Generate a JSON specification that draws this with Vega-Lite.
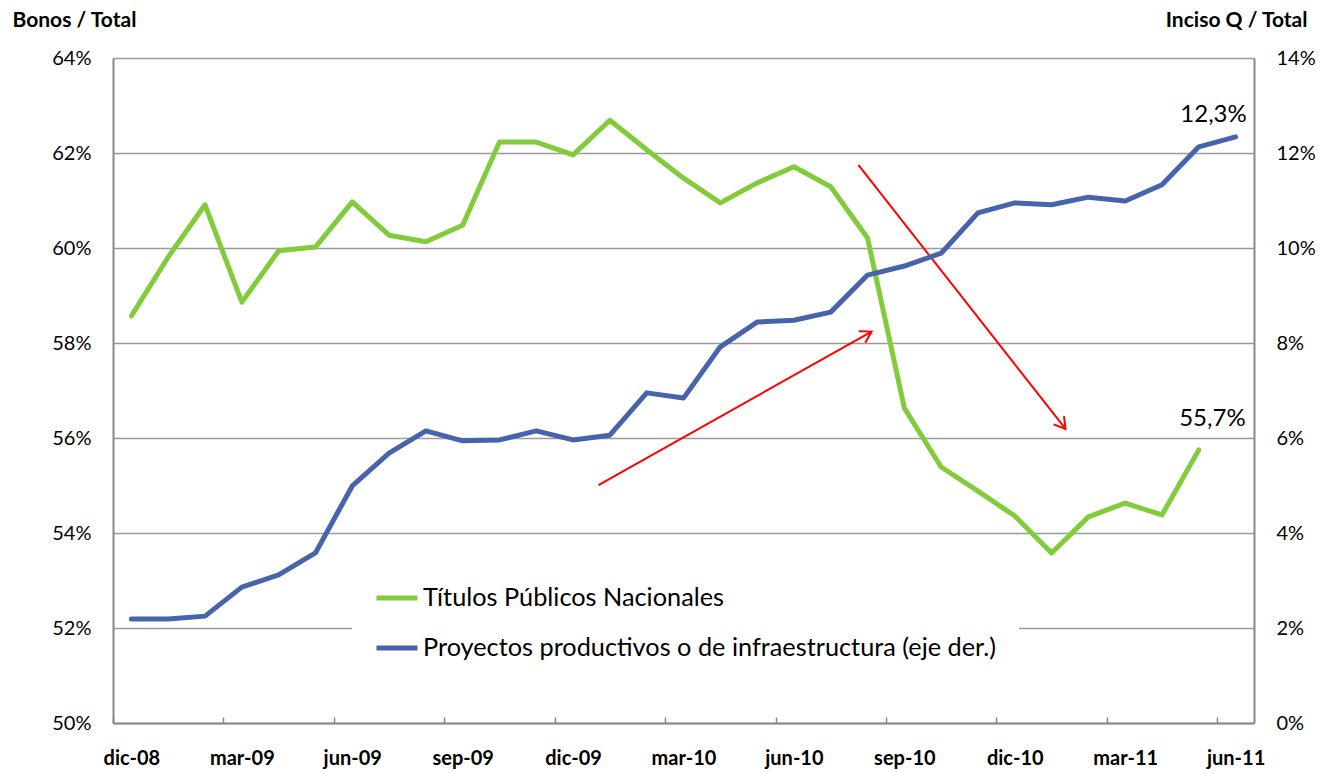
{
  "$schema": "https://vega.github.io/schema/vega-lite/v6.json",
  "width": 1141,
  "height": 665,
  "autosize": {"type": "none"},
  "padding": {"left": 113, "top": 58, "right": 66, "bottom": 50},
  "background": "white",
  "config": {
    "view": {"stroke": null},
    "font": "Lato",
    "axis": {"labelFont": "Lato", "titleFont": "Lato", "labelColor": "#000000", "titleColor": "#000000"},
    "legend": {"labelFont": "Lato"}
  },
  "datasets": {
    "series": [
      {"mes": "dic-08", "t": 0, "serie": "Títulos Públicos Nacionales", "valor": 0.5857},
      {"mes": "ene-09", "t": 1, "serie": "Títulos Públicos Nacionales", "valor": 0.5981},
      {"mes": "feb-09", "t": 2, "serie": "Títulos Públicos Nacionales", "valor": 0.6091},
      {"mes": "mar-09", "t": 3, "serie": "Títulos Públicos Nacionales", "valor": 0.5886},
      {"mes": "abr-09", "t": 4, "serie": "Títulos Públicos Nacionales", "valor": 0.5994},
      {"mes": "may-09", "t": 5, "serie": "Títulos Públicos Nacionales", "valor": 0.6002},
      {"mes": "jun-09", "t": 6, "serie": "Títulos Públicos Nacionales", "valor": 0.6097},
      {"mes": "jul-09", "t": 7, "serie": "Títulos Públicos Nacionales", "valor": 0.6027},
      {"mes": "ago-09", "t": 8, "serie": "Títulos Públicos Nacionales", "valor": 0.6013},
      {"mes": "sep-09", "t": 9, "serie": "Títulos Públicos Nacionales", "valor": 0.6048},
      {"mes": "oct-09", "t": 10, "serie": "Títulos Públicos Nacionales", "valor": 0.6223},
      {"mes": "nov-09", "t": 11, "serie": "Títulos Públicos Nacionales", "valor": 0.6223},
      {"mes": "dic-09", "t": 12, "serie": "Títulos Públicos Nacionales", "valor": 0.6196},
      {"mes": "ene-10", "t": 13, "serie": "Títulos Públicos Nacionales", "valor": 0.6269},
      {"mes": "feb-10", "t": 14, "serie": "Títulos Públicos Nacionales", "valor": 0.6207},
      {"mes": "mar-10", "t": 15, "serie": "Títulos Públicos Nacionales", "valor": 0.6147},
      {"mes": "abr-10", "t": 16, "serie": "Títulos Públicos Nacionales", "valor": 0.6095},
      {"mes": "may-10", "t": 17, "serie": "Títulos Públicos Nacionales", "valor": 0.6137},
      {"mes": "jun-10", "t": 18, "serie": "Títulos Públicos Nacionales", "valor": 0.6171},
      {"mes": "jul-10", "t": 19, "serie": "Títulos Públicos Nacionales", "valor": 0.6129},
      {"mes": "ago-10", "t": 20, "serie": "Títulos Públicos Nacionales", "valor": 0.6021},
      {"mes": "sep-10", "t": 21, "serie": "Títulos Públicos Nacionales", "valor": 0.5663},
      {"mes": "oct-10", "t": 22, "serie": "Títulos Públicos Nacionales", "valor": 0.5539},
      {"mes": "nov-10", "t": 23, "serie": "Títulos Públicos Nacionales", "valor": 0.5488},
      {"mes": "dic-10", "t": 24, "serie": "Títulos Públicos Nacionales", "valor": 0.5436},
      {"mes": "ene-11", "t": 25, "serie": "Títulos Públicos Nacionales", "valor": 0.5358},
      {"mes": "feb-11", "t": 26, "serie": "Títulos Públicos Nacionales", "valor": 0.5434},
      {"mes": "mar-11", "t": 27, "serie": "Títulos Públicos Nacionales", "valor": 0.5463},
      {"mes": "abr-11", "t": 28, "serie": "Títulos Públicos Nacionales", "valor": 0.5438},
      {"mes": "may-11", "t": 29, "serie": "Títulos Públicos Nacionales", "valor": 0.5575},
      {"mes": "dic-08", "t": 0, "serie": "Proyectos productivos o de infraestructura (eje der.)", "valor": 0.0219},
      {"mes": "ene-09", "t": 1, "serie": "Proyectos productivos o de infraestructura (eje der.)", "valor": 0.0219},
      {"mes": "feb-09", "t": 2, "serie": "Proyectos productivos o de infraestructura (eje der.)", "valor": 0.0225},
      {"mes": "mar-09", "t": 3, "serie": "Proyectos productivos o de infraestructura (eje der.)", "valor": 0.0286},
      {"mes": "abr-09", "t": 4, "serie": "Proyectos productivos o de infraestructura (eje der.)", "valor": 0.0312},
      {"mes": "may-09", "t": 5, "serie": "Proyectos productivos o de infraestructura (eje der.)", "valor": 0.0358},
      {"mes": "jun-09", "t": 6, "serie": "Proyectos productivos o de infraestructura (eje der.)", "valor": 0.0499},
      {"mes": "jul-09", "t": 7, "serie": "Proyectos productivos o de infraestructura (eje der.)", "valor": 0.0568},
      {"mes": "ago-09", "t": 8, "serie": "Proyectos productivos o de infraestructura (eje der.)", "valor": 0.0615},
      {"mes": "sep-09", "t": 9, "serie": "Proyectos productivos o de infraestructura (eje der.)", "valor": 0.0594},
      {"mes": "oct-09", "t": 10, "serie": "Proyectos productivos o de infraestructura (eje der.)", "valor": 0.0596},
      {"mes": "nov-09", "t": 11, "serie": "Proyectos productivos o de infraestructura (eje der.)", "valor": 0.0615},
      {"mes": "dic-09", "t": 12, "serie": "Proyectos productivos o de infraestructura (eje der.)", "valor": 0.0596},
      {"mes": "ene-10", "t": 13, "serie": "Proyectos productivos o de infraestructura (eje der.)", "valor": 0.0606},
      {"mes": "feb-10", "t": 14, "serie": "Proyectos productivos o de infraestructura (eje der.)", "valor": 0.0695},
      {"mes": "mar-10", "t": 15, "serie": "Proyectos productivos o de infraestructura (eje der.)", "valor": 0.0684},
      {"mes": "abr-10", "t": 16, "serie": "Proyectos productivos o de infraestructura (eje der.)", "valor": 0.0792},
      {"mes": "may-10", "t": 17, "serie": "Proyectos productivos o de infraestructura (eje der.)", "valor": 0.0844},
      {"mes": "jun-10", "t": 18, "serie": "Proyectos productivos o de infraestructura (eje der.)", "valor": 0.0848},
      {"mes": "jul-10", "t": 19, "serie": "Proyectos productivos o de infraestructura (eje der.)", "valor": 0.0865},
      {"mes": "ago-10", "t": 20, "serie": "Proyectos productivos o de infraestructura (eje der.)", "valor": 0.0943},
      {"mes": "sep-10", "t": 21, "serie": "Proyectos productivos o de infraestructura (eje der.)", "valor": 0.0962},
      {"mes": "oct-10", "t": 22, "serie": "Proyectos productivos o de infraestructura (eje der.)", "valor": 0.0989},
      {"mes": "nov-10", "t": 23, "serie": "Proyectos productivos o de infraestructura (eje der.)", "valor": 0.1074},
      {"mes": "dic-10", "t": 24, "serie": "Proyectos productivos o de infraestructura (eje der.)", "valor": 0.1095},
      {"mes": "ene-11", "t": 25, "serie": "Proyectos productivos o de infraestructura (eje der.)", "valor": 0.1091},
      {"mes": "feb-11", "t": 26, "serie": "Proyectos productivos o de infraestructura (eje der.)", "valor": 0.1107},
      {"mes": "mar-11", "t": 27, "serie": "Proyectos productivos o de infraestructura (eje der.)", "valor": 0.1099},
      {"mes": "abr-11", "t": 28, "serie": "Proyectos productivos o de infraestructura (eje der.)", "valor": 0.1133},
      {"mes": "may-11", "t": 29, "serie": "Proyectos productivos o de infraestructura (eje der.)", "valor": 0.1213},
      {"mes": "jun-11", "t": 30, "serie": "Proyectos productivos o de infraestructura (eje der.)", "valor": 0.1234}
    ],
    "flechas": [
      {"flecha": "sube", "t": 12.69, "valor": 0.5501, "t2": 20.11, "valor2": 0.5824},
      {"flecha": "baja", "t": 19.75, "valor": 0.6175, "t2": 25.38, "valor2": 0.5619}
    ],
    "notas": [
      {"t": 29.4, "valor": 0.6265, "etiqueta": "12,3%"},
      {"t": 29.37, "valor": 0.5626, "etiqueta": "55,7%"}
    ]
  },
  "layer": [
    {
      "layer": [
        {
          "data": {"name": "series"},
          "transform": [{"filter": "datum.serie === 'Títulos Públicos Nacionales'"}],
          "mark": {"type": "line", "strokeWidth": 5, "strokeJoin": "round", "strokeCap": "round"},
          "encoding": {
            "x": {
              "field": "t", "type": "quantitative",
              "scale": {"domain": [-0.5, 30.5], "nice": false, "zero": false},
              "axis": {
                "values": [-0.5, 2.5, 5.5, 8.5, 11.5, 14.5, 17.5, 20.5, 23.5, 26.5, 29.5],
                "labelExpr": "['dic-08','mar-09','jun-09','sep-09','dic-09','mar-10','jun-10','sep-10','dic-10','mar-11','jun-11'][round((datum.value + 0.5) / 3)]",
                "labelOffset": 18.4,
                "labelFlush": false,
                "labelOverlap": false,
                "labelBound": false,
                "grid": false,
                "tickSize": -6,
                "tickColor": "#888888",
                "tickWidth": 1.5,
                "domainColor": "#888888",
                "domainWidth": 2,
                "labelFontSize": 20,
                "labelFontWeight": "bold",
                "labelPadding": 31,
                "title": null
              }
            },
            "y": {
              "field": "valor", "type": "quantitative",
              "scale": {"domain": [0.5, 0.64], "nice": false, "zero": false},
              "axis": {
                "values": [0.5, 0.52, 0.54, 0.56, 0.58, 0.6, 0.62, 0.64],
                "format": ".0%",
                "grid": true,
                "gridColor": "#9a9a9a",
                "gridWidth": 1.5,
                "ticks": false,
                "tickSize": 0,
                "labelPadding": 22,
                "labelFontSize": 20,
                "domainColor": "#888888",
                "domainWidth": 2,
                "title": "Bonos / Total",
                "titleAngle": 0,
                "titleAlign": "left",
                "titleBaseline": "middle",
                "titleX": -101,
                "titleY": -38,
                "titleFontSize": 21,
                "titleFontWeight": "bold"
              }
            },
            "color": {
              "field": "serie", "type": "nominal",
              "scale": {
                "domain": ["Títulos Públicos Nacionales", "Proyectos productivos o de infraestructura (eje der.)"],
                "range": ["#80CC3A", "#4663AC"]
              },
              "legend": {
                "title": null,
                "orient": "none",
                "legendX": 239,
                "legendY": 495,
                "fillColor": "white",
                "padding": 22,
                "labelFontSize": 25.3,
                "labelFont": "Lato",
                "labelColor": "#000000",
                "labelLimit": 0,
                "labelOffset": 3,
                "symbolType": "stroke",
                "symbolStrokeWidth": 5,
                "symbolSize": 1681,
                "rowPadding": 13
              }
            }
          }
        },
        {
          "data": {"name": "flechas"},
          "mark": {"type": "rule", "color": "#FF0000", "strokeWidth": 2},
          "encoding": {
            "x": {"field": "t", "type": "quantitative", "scale": {"domain": [-0.5, 30.5], "nice": false, "zero": false}},
            "y": {"field": "valor", "type": "quantitative", "scale": {"domain": [0.5, 0.64], "nice": false, "zero": false}},
            "x2": {"field": "t2"},
            "y2": {"field": "valor2"}
          }
        },
        {
          "data": {"name": "flechas"},
          "transform": [{"filter": "datum.flecha === 'sube'"}],
          "mark": {"type": "point", "shape": "M-1,-0.6L0,0L-1,0.6", "angle": 330.8, "size": 484, "filled": false, "color": "#FF0000", "strokeWidth": 2, "opacity": 1},
          "encoding": {
            "x": {"field": "t2", "type": "quantitative", "scale": {"domain": [-0.5, 30.5], "nice": false, "zero": false}},
            "y": {"field": "valor2", "type": "quantitative", "scale": {"domain": [0.5, 0.64], "nice": false, "zero": false}}
          }
        },
        {
          "data": {"name": "flechas"},
          "transform": [{"filter": "datum.flecha === 'baja'"}],
          "mark": {"type": "point", "shape": "M-1,-0.6L0,0L-1,0.6", "angle": 51.9, "size": 484, "filled": false, "color": "#FF0000", "strokeWidth": 2, "opacity": 1},
          "encoding": {
            "x": {"field": "t2", "type": "quantitative", "scale": {"domain": [-0.5, 30.5], "nice": false, "zero": false}},
            "y": {"field": "valor2", "type": "quantitative", "scale": {"domain": [0.5, 0.64], "nice": false, "zero": false}}
          }
        },
        {
          "data": {"name": "notas"},
          "mark": {"type": "text", "fontSize": 24, "font": "Lato", "align": "center", "baseline": "alphabetic", "color": "#000000"},
          "encoding": {
            "x": {"field": "t", "type": "quantitative", "scale": {"domain": [-0.5, 30.5], "nice": false, "zero": false}},
            "y": {"field": "valor", "type": "quantitative", "scale": {"domain": [0.5, 0.64], "nice": false, "zero": false}},
            "text": {"field": "etiqueta"}
          }
        }
      ]
    },
    {
      "data": {"name": "series"},
      "transform": [{"filter": "datum.serie === 'Proyectos productivos o de infraestructura (eje der.)'"}],
      "mark": {"type": "line", "strokeWidth": 5, "strokeJoin": "round", "strokeCap": "round"},
      "encoding": {
        "x": {"field": "t", "type": "quantitative", "scale": {"domain": [-0.5, 30.5], "nice": false, "zero": false}},
        "y": {
          "field": "valor", "type": "quantitative",
          "scale": {"domain": [0, 0.14], "nice": false, "zero": false},
          "axis": {
            "orient": "right",
            "values": [0, 0.02, 0.04, 0.06, 0.08, 0.1, 0.12, 0.14],
            "format": ".0%",
            "grid": false,
            "ticks": false,
            "tickSize": 0,
            "labelPadding": 22,
            "labelFontSize": 20,
            "domainColor": "#888888",
            "domainWidth": 2,
            "title": "Inciso Q / Total",
            "titleAngle": 0,
            "titleAlign": "right",
            "titleBaseline": "middle",
            "titleX": 53,
            "titleY": -38,
            "titleFontSize": 21,
            "titleFontWeight": "bold"
          }
        },
        "color": {
          "field": "serie", "type": "nominal",
          "scale": {
            "domain": ["Títulos Públicos Nacionales", "Proyectos productivos o de infraestructura (eje der.)"],
            "range": ["#80CC3A", "#4663AC"]
          }
        }
      }
    }
  ],
  "resolve": {"scale": {"y": "independent"}}
}
